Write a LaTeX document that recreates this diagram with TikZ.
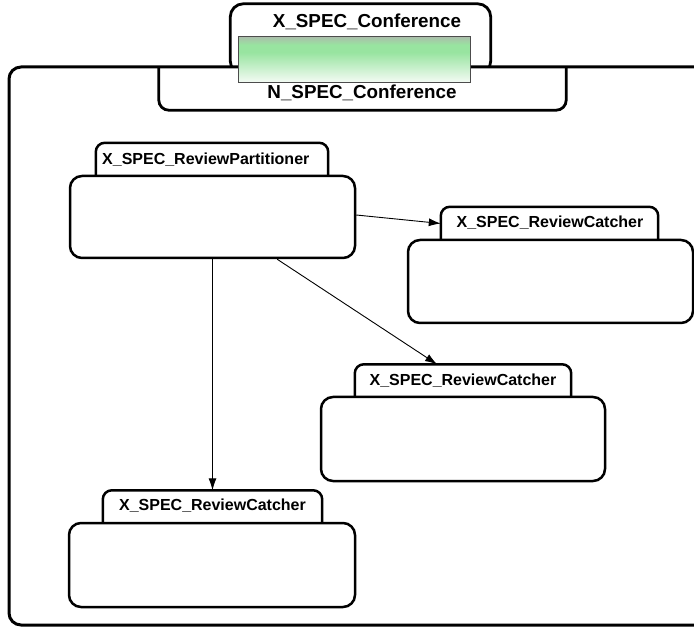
\documentclass[tikz,border=0pt]{standalone}
\usepackage{fontspec}
\setmainfont{Liberation Sans}
\usetikzlibrary{arrows.meta,calc}

\definecolor{gtop}{RGB}{170,190,170}
\definecolor{gmid}{RGB}{152,228,160}
\definecolor{gbot}{RGB}{244,251,244}

% vertical fade for the port: white at the bottom, green, grey-green at the top
\pgfdeclareverticalshading{portfade}{100bp}{%
  color(0bp)=(gbot); color(25bp)=(gbot); color(58bp)=(gmid); color(66bp)=(gmid); color(75bp)=(gtop); color(100bp)=(gtop)}

\tikzset{
  lbl/.style={font=\bfseries\fontsize{16}{19}\selectfont, inner sep=0pt},
  biglbl/.style={font=\bfseries\fontsize{18.8}{22}\selectfont, inner sep=0pt},
  tabbox/.style={lbl, minimum height=33pt, draw=none, fill=white},
  tabline/.style={line width=2.5pt, rounded corners=9pt, fill=white},
  bodybox/.style={draw, line width=2.5pt, rounded corners=12pt, fill=white, inner sep=0pt},
  link/.style={line width=0.9pt, -{Latex[length=12pt,width=8pt]}},
}

\begin{document}
\begin{tikzpicture}[x=1pt,y=-1pt]
\useasboundingbox (0,0) rectangle (694,628);

% outer conference tab (sits above the frame)
\node[draw=none, minimum width=260pt, minimum height=70pt, inner sep=0pt] (ctab) at (360.5,39) {};
\draw[tabline, line width=2.8pt, rounded corners=13pt] (ctab.south west) -- (ctab.north west) -- (ctab.north east) -- (ctab.south east) -- cycle;

% enclosing frame
\node[draw, line width=3pt, rounded corners=12pt, fill=white, inner sep=0pt,
      minimum width=701pt, minimum height=558pt] (frame) at (359.5,346) {};

% lower conference tab, open at the top
\node[draw=none, minimum width=407pt, minimum height=43pt, inner sep=0pt] (ntab) at (362.5,88.5) {};
\draw[line width=2.8pt, rounded corners=10pt] (ntab.north west) -- (ntab.south west) -- (ntab.south east) -- (ntab.north east);

% green port
\node[minimum width=231pt, minimum height=45pt, inner sep=0pt] (port) at (354.5,59.5) {};
\shade[shading=portfade] (port.south west) rectangle (port.north east);
\draw[black!70, line width=1pt] (port.south west) rectangle (port.north east);

\node[biglbl] (clabel) at (367,22) {X\_SPEC\_Conference};
\node[biglbl] (nlabel) at (362,93) {N\_SPEC\_Conference};

% review partitioner
\node[tabbox, minimum width=232pt] (pt) at (212,159.5) {};
\draw[tabline] (pt.south west) -- (pt.north west) -- (pt.north east) -- (pt.south east);
\node[lbl, anchor=west] (ptl) at (102,160) {X\_SPEC\_ReviewPartitioner};
\node[bodybox, minimum width=285pt, minimum height=82pt] (part) at (212.5,217) {};

% review catcher, right
\node[tabbox, minimum width=217pt] (c1t) at (549.5,223.5) {};
\draw[tabline] (c1t.south west) -- (c1t.north west) -- (c1t.north east) -- (c1t.south east);
\node[lbl] (c1l) at (550,223) {X\_SPEC\_ReviewCatcher};
\node[bodybox, minimum width=285pt, minimum height=83pt] (c1) at (550.5,281.5) {};

% review catcher, middle
\node[tabbox, minimum width=216pt] (c2t) at (463,381) {};
\draw[tabline] (c2t.south west) -- (c2t.north west) -- (c2t.north east) -- (c2t.south east);
\node[lbl] (c2l) at (463,381) {X\_SPEC\_ReviewCatcher};
\node[bodybox, minimum width=284pt, minimum height=84pt] (c2) at (463,439) {};

% review catcher, bottom left
\node[tabbox, minimum width=219pt] (c3t) at (212.5,507) {};
\draw[tabline] (c3t.south west) -- (c3t.north west) -- (c3t.north east) -- (c3t.south east);
\node[lbl] (c3l) at (212.5,506) {X\_SPEC\_ReviewCatcher};
\node[bodybox, minimum width=286pt, minimum height=84pt] (c3) at (212,565) {};

% connectors
\draw[link] ([yshift=2pt]part.east) -- (c1t.west);
\draw[link] ($(part.south west)!0.725!(part.south east)$) -- ($(c2t.north west)!0.38!(c2t.north east)$);
\draw[link] (part.south) -- (c3t.north);

\end{tikzpicture}
\end{document}
